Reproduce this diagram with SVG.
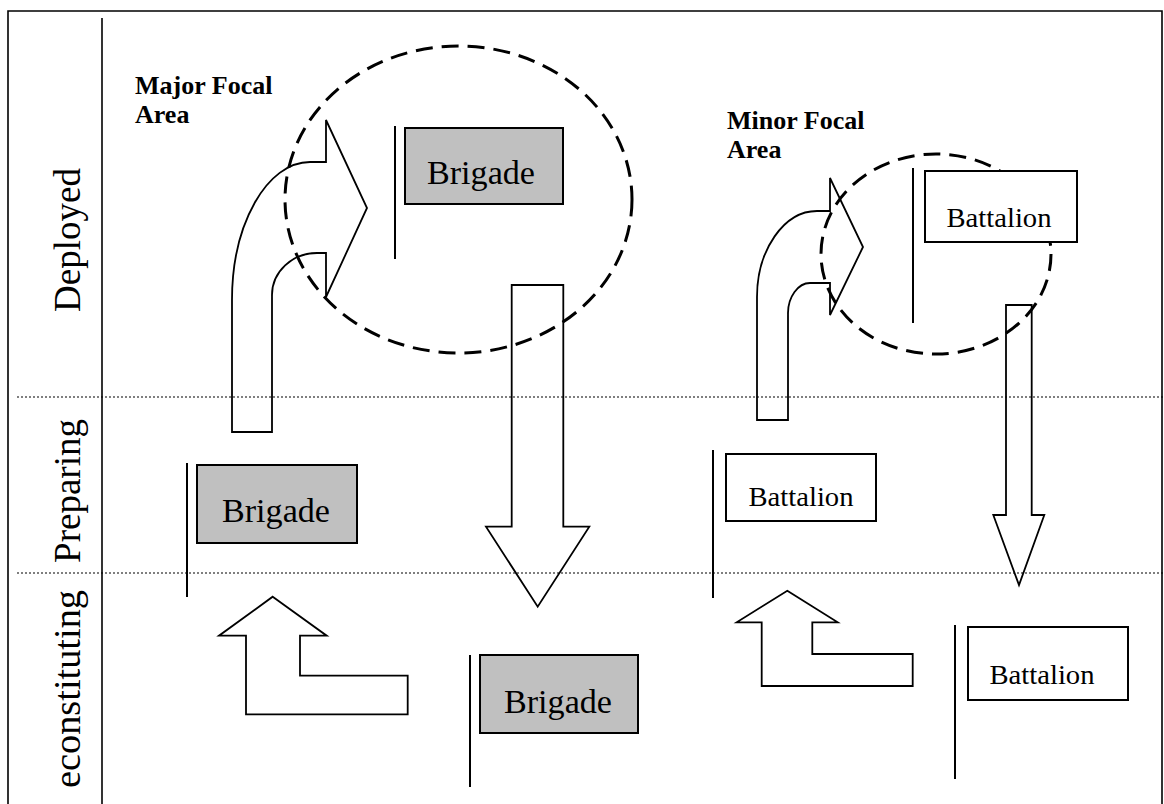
<svg xmlns="http://www.w3.org/2000/svg" width="1164" height="804" viewBox="0 0 1164 804">
<style>
.frame{fill:none;stroke:#000;stroke-width:1.6}
.dot{fill:none;stroke:#000;stroke-width:1.2;stroke-dasharray:2,2}
.arrow{fill:none;stroke:#000;stroke-width:1.8;stroke-linejoin:miter}
.focal{fill:none;stroke:#000;stroke-width:3;stroke-dasharray:17,9}
.pole{stroke:#000;stroke-width:2}
.brig{fill:#c0c0c0;stroke:#000;stroke-width:2}
.batt{fill:#fff;stroke:#000;stroke-width:2}
.phase{font-family:"Liberation Serif",serif;font-size:37px;fill:#000}
.unit{font-family:"Liberation Serif",serif;fill:#000;text-anchor:middle}
.area{font-family:"Liberation Serif",serif;font-size:26px;font-weight:bold;fill:#000}
</style>
<rect width="1164" height="804" fill="#fff"/>
<g id="frame">
<path class="frame" d="M8,804 L8,11 L1162,11 L1162,804"/>
<line class="frame" x1="102" y1="18" x2="102" y2="804"/>
<line class="dot" x1="17" y1="397" x2="1164" y2="397"/>
<line class="dot" x1="17" y1="573" x2="1164" y2="573"/>
</g>
<g id="phase-labels">
<text class="phase" transform="translate(80,240) rotate(-90)" text-anchor="middle">Deployed</text>
<text class="phase" transform="translate(80,491) rotate(-90)" text-anchor="middle">Preparing</text>
<text class="phase" transform="translate(80,788) rotate(-90)" text-anchor="start" textLength="198" lengthAdjust="spacingAndGlyphs">econstituting</text>
</g>
<g id="connectors">
<path id="major-curve" class="arrow" d="M232,432 L232,300 C232,224 267,162 310,162 L326,162 L326,120 L367,208 L326,297 L326,253 L317,253 C292,253 272,272 272,295 L272,432 Z"/>
<path id="major-down" class="arrow" d="M511.7,285 L563.3,285 L563.3,526.7 L589.3,526.7 L537.7,606.7 L486,526.7 L511.7,526.7 Z"/>
<path id="major-up" class="arrow" d="M272.7,596.7 L326.7,635.7 L300,635.7 L300,675.7 L407.7,675.7 L407.7,714.3 L246,714.3 L246,635.7 L219,635.7 Z"/>
<path id="minor-curve" class="arrow" d="M757,420 L757,297 C757,250 784,211 817,211 L830,211 L830,178 L863,247 L830,315 L830,283 L810,283 C798,283 788,297 788,313 L788,420 Z"/>
<path id="minor-down" class="arrow" d="M1006,305 L1031.7,305 L1031.7,515 L1044.3,515 L1019,585 L993.3,515 L1006,515 Z"/>
<path id="minor-up" class="arrow" d="M787.3,590.7 L837.7,622.3 L812.3,622.3 L812.3,654 L912.7,654 L912.7,686 L761.7,686 L761.7,622.3 L736.7,622.3 Z"/>
</g>
<g id="major-focal-area">
<ellipse class="focal" cx="458.5" cy="199.5" rx="173.5" ry="153.5"/>
<text class="area" x="135" y="94">Major Focal</text>
<text class="area" x="135" y="123">Area</text>
</g>
<g id="minor-focal-area">
<ellipse class="focal" cx="936" cy="254" rx="115" ry="100"/>
<text class="area" x="727" y="129">Minor Focal</text>
<text class="area" x="727" y="158">Area</text>
</g>
<g id="brigade-deployed">
<line class="pole" x1="395" y1="126" x2="395" y2="259"/>
<rect class="brig" x="405" y="128" width="158" height="76"/>
<text class="unit" x="481" y="184" font-size="33" textLength="108" lengthAdjust="spacingAndGlyphs">Brigade</text>
</g>
<g id="brigade-preparing">
<line class="pole" x1="187" y1="463" x2="187" y2="597"/>
<rect class="brig" x="197" y="465" width="160" height="78"/>
<text class="unit" x="276" y="522" font-size="33" textLength="108" lengthAdjust="spacingAndGlyphs">Brigade</text>
</g>
<g id="brigade-reconstituting">
<line class="pole" x1="470" y1="655" x2="470" y2="787"/>
<rect class="brig" x="480" y="655" width="158" height="78"/>
<text class="unit" x="558" y="713" font-size="33" textLength="108" lengthAdjust="spacingAndGlyphs">Brigade</text>
</g>
<g id="battalion-deployed">
<line class="pole" x1="913" y1="168" x2="913" y2="323"/>
<rect class="batt" x="925" y="171" width="152" height="71"/>
<text class="unit" x="999" y="227" font-size="27" textLength="105" lengthAdjust="spacingAndGlyphs">Battalion</text>
</g>
<g id="battalion-preparing">
<line class="pole" x1="713" y1="450" x2="713" y2="598"/>
<rect class="batt" x="726" y="454" width="150" height="67"/>
<text class="unit" x="801" y="506" font-size="27" textLength="105" lengthAdjust="spacingAndGlyphs">Battalion</text>
</g>
<g id="battalion-reconstituting">
<line class="pole" x1="955" y1="625" x2="955" y2="779"/>
<rect class="batt" x="968" y="627" width="160" height="73"/>
<text class="unit" x="1042" y="684" font-size="27" textLength="105" lengthAdjust="spacingAndGlyphs">Battalion</text>
</g>
</svg>
